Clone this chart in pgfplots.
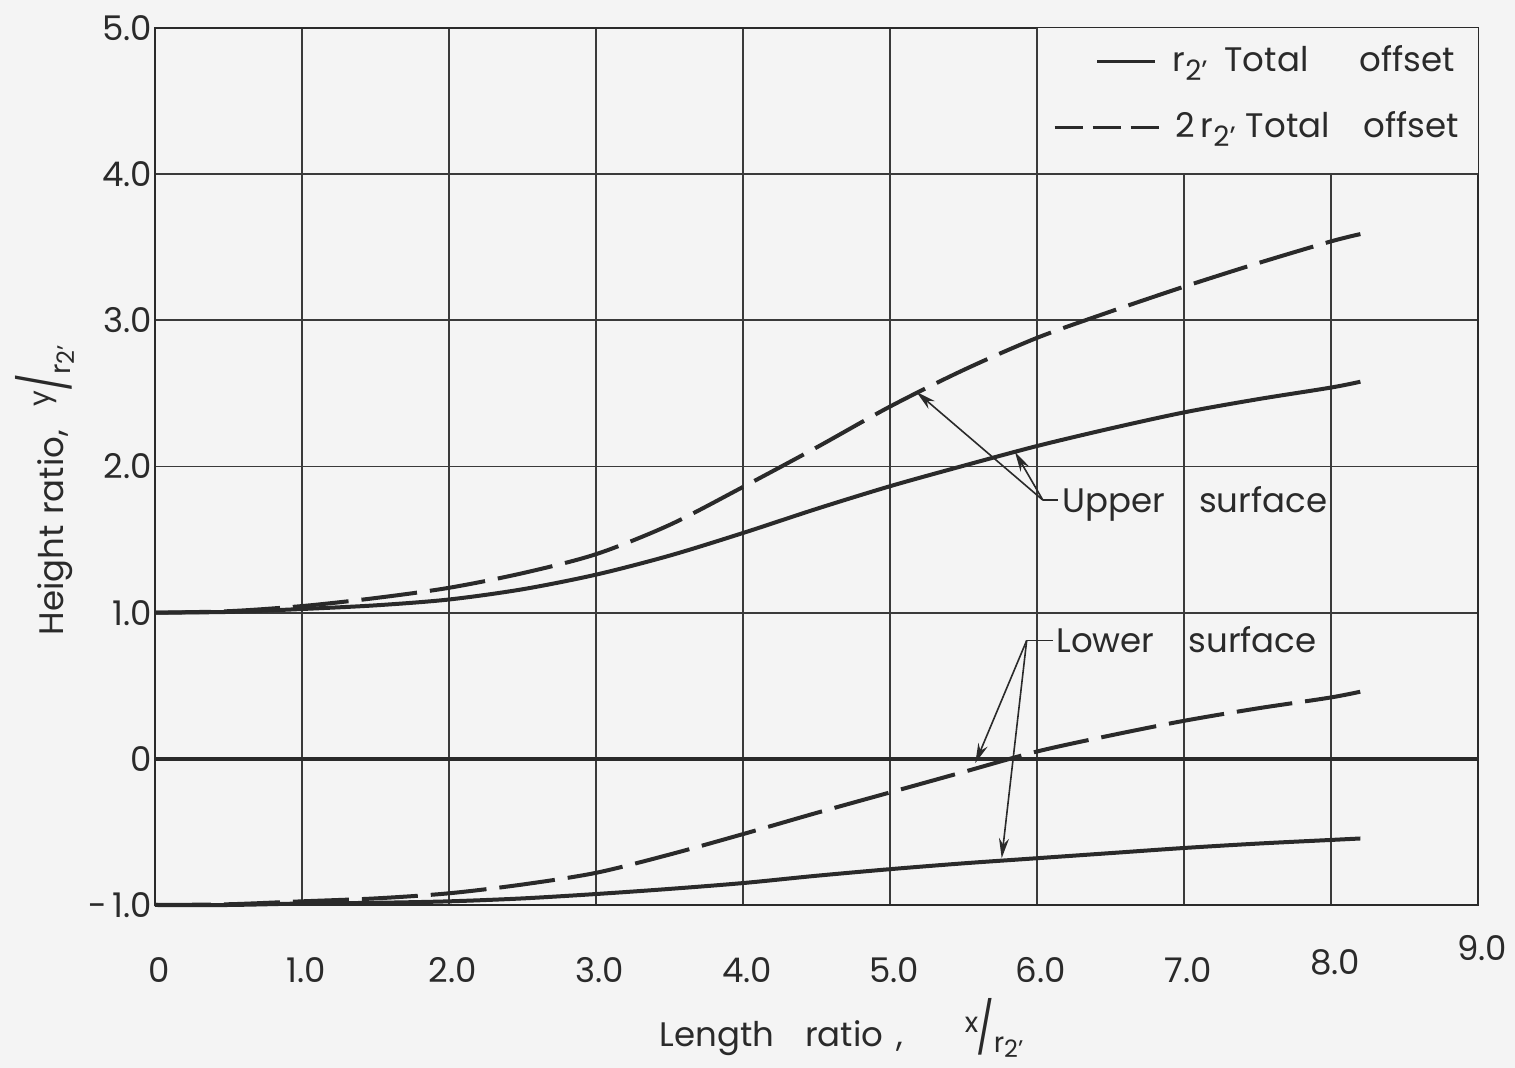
\documentclass[border=0pt]{standalone}
\usepackage{fontspec}
\setmainfont{Poppins}
\usepackage{graphicx}
\usepackage{pgfplots}
\pgfplotsset{compat=1.18}
\usetikzlibrary{arrows.meta,backgrounds}
\definecolor{ink}{HTML}{2A2A2A}
\definecolor{paper}{HTML}{F4F4F4}
\definecolor{gridc}{HTML}{3A3A3A}
\newcommand\subtwo{\raisebox{-0.45ex}{\fontsize{14}{14}\selectfont 2’}}
\newcommand\ratio[1]{\raisebox{0.75ex}{\fontsize{14}{14}\selectfont #1}\kern-0.05em\scalebox{1.1}[1.5]{/}\kern-0.02em\raisebox{-0.35ex}{\fontsize{14}{14}\selectfont r\raisebox{-0.3ex}{\fontsize{12}{12}\selectfont 2’}}}

\pgfplotstableread{
x y
0 1.00
0.5 1.005
1.0 1.025
1.5 1.05
2.0 1.09
2.5 1.16
3.0 1.26
3.5 1.39
4.0 1.545
4.5 1.71
5.0 1.865
5.5 2.005
6.0 2.14
6.5 2.26
7.0 2.37
7.5 2.46
8.0 2.54
8.2 2.58
}\upsolid
\pgfplotstableread{
x y
0 1.00
0.5 1.01
1.0 1.045
1.5 1.10
2.0 1.17
2.5 1.27
3.0 1.40
3.5 1.60
4.0 1.86
4.5 2.13
5.0 2.41
5.5 2.66
6.0 2.88
6.5 3.06
7.0 3.23
7.5 3.39
8.0 3.54
8.2 3.59
}\updashed
\pgfplotstableread{
x y
0 -1.00
0.5 -1.00
1.0 -0.99
1.5 -0.985
2.0 -0.975
2.5 -0.955
3.0 -0.925
3.5 -0.89
4.0 -0.85
4.5 -0.80
5.0 -0.755
5.5 -0.715
6.0 -0.68
6.5 -0.645
7.0 -0.61
7.5 -0.58
8.0 -0.555
8.2 -0.545
}\losolid
\pgfplotstableread{
x y
0 -1.00
0.5 -0.995
1.0 -0.975
1.5 -0.955
2.0 -0.92
2.5 -0.86
3.0 -0.78
3.5 -0.655
4.0 -0.515
4.5 -0.37
5.0 -0.23
5.5 -0.09
6.0 0.05
6.5 0.16
7.0 0.26
7.5 0.345
8.0 0.42
8.25 0.47
}\lodashed

\begin{document}
\begin{tikzpicture}[font=\fontsize{17}{20}\selectfont, color=ink]
\begin{axis}[
  scale only axis, width=661.5pt, height=438.5pt,
  xmin=0, xmax=9, ymin=-1, ymax=5,
  xtick={0,1,...,9}, ytick={-1,0,...,5},
  xticklabels={0,1.0,2.0,3.0,4.0,5.0,6.0,7.0,\raisebox{4pt}{8.0},\raisebox{11pt}{9.0}},
  yticklabels={-\,1.0,0,1.0,2.0,3.0,4.0,5.0},
  xticklabel style={anchor=base, yshift=-39pt, xshift=2pt},
  yticklabel style={xshift=2pt},
  major tick length=0pt,
  grid=major,
  grid style={gridc, line width=0.9pt},
  axis line style={ink, line width=1.2pt},
  clip=false,
  xlabel={Length\hspace{0.9em}ratio\hspace{0.4em},\hspace{1.8em}\ratio{x}},
  ylabel={Height\hspace{0.3em}ratio,\hspace{0.7em}\ratio{y}},
  xlabel style={at={(axis description cs:0.519,-0.161)}, anchor=base},
  ylabel style={at={(axis description cs:-0.083,0.473)}, anchor=center},
]
\coordinate (O) at (axis cs:0,-1);
% legend box region
\fill[paper] (axis cs:6,4) rectangle (axis cs:9,5);
\draw[gridc, line width=0.9pt] (axis cs:6,5) -- (axis cs:6,4) -- (axis cs:9,4);
% zero line
\addplot[ink, line width=1.8pt, forget plot] coordinates {(0,0) (9,0)};
% curves
\addplot[ink, line width=2pt, smooth] table {\upsolid};
\addplot[ink, line width=2pt, smooth, dash pattern=on 28pt off 6.5pt] table {\updashed};
\addplot[ink, line width=2pt, smooth] table {\losolid};
\addplot[ink, line width=2pt, smooth, dash pattern=on 28pt off 6.5pt] table {\lodashed};
% annotations
\draw[ink, line width=0.8pt, -{Stealth[length=10pt,width=5pt]}] (axis cs:6.04,1.77) -- (axis cs:5.18,2.51);
\draw[ink, line width=0.8pt, -{Stealth[length=10pt,width=5pt]}] (axis cs:6.04,1.77) -- (axis cs:5.85,2.10);
\draw[ink, line width=0.8pt] (axis cs:6.04,1.77) -- (axis cs:6.14,1.77);
\node[anchor=base west, inner sep=0pt] at (axis cs:6.17,1.685) {Upper\hspace{1.0em}surface};
\draw[ink, line width=0.8pt, -{Stealth[length=10pt,width=5pt]}] (axis cs:5.93,0.81) -- (axis cs:5.58,-0.03);
\draw[ink, line width=0.8pt, -{Stealth[length=10pt,width=5pt]}] (axis cs:5.93,0.81) -- (axis cs:5.76,-0.68);
\draw[ink, line width=0.8pt] (axis cs:5.93,0.81) -- (axis cs:6.11,0.81);
\node[anchor=base west, inner sep=0pt] at (axis cs:6.13,0.73) {Lower\hspace{1.0em}surface};
% legend
\draw[ink, line width=1.2pt] (axis cs:6.41,4.77) -- (axis cs:6.80,4.77);
\node[anchor=base west, inner sep=0pt] at (axis cs:6.92,4.70) {r\subtwo\hspace{0.5em}Total\hspace{1.5em}offset};
\draw[ink, line width=1.2pt, dash pattern=on 14pt off 5pt] (axis cs:6.12,4.32) -- (axis cs:6.84,4.32);
\node[anchor=base west, inner sep=0pt] at (axis cs:6.94,4.25) {2\,r\subtwo\hspace{0.3em}Total\hspace{1.0em}offset};
\end{axis}
\begin{scope}[on background layer]
\fill[paper] ([shift={(-77.5pt,-81.5pt)}]O) rectangle ([shift={(680pt,452.5pt)}]O);
\end{scope}
\pgfresetboundingbox
\path[use as bounding box] ([shift={(-77.5pt,-81.5pt)}]O) rectangle ([shift={(680pt,452.5pt)}]O);
\end{tikzpicture}
\end{document}
